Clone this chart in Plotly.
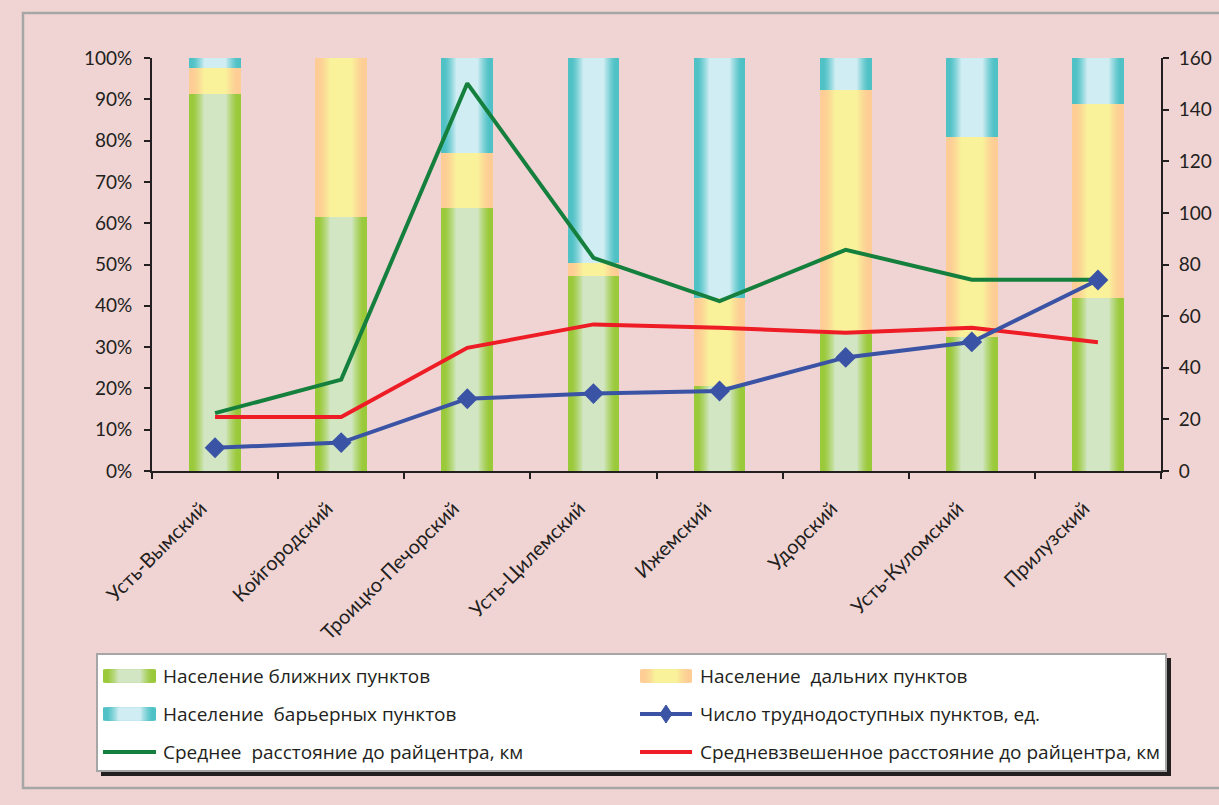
import plotly.graph_objects as go

# ---------------- data ----------------
districts = ["Усть-Вымский", "Койгородский", "Троицко-Печорский", "Усть-Цилемский",
             "Ижемский", "Удорский", "Усть-Куломский", "Прилузский"]
near_pct = [91.2, 61.4, 63.6, 47.2, 20.5, 33.2, 32.4, 41.8]
far_pct = [6.4, 38.6, 13.3, 3.2, 21.4, 59.0, 48.4, 47.1]
barrier_pct = [2.4, 0.0, 23.1, 49.6, 58.1, 7.8, 19.2, 11.1]
hard_count = [9, 11, 28, 30, 31, 44, 50, 74]
avg_dist = [22.4, 35.4, 150.2, 82.6, 65.8, 85.7, 74.1, 74.1]
wavg_dist = [20.9, 20.9, 47.7, 56.8, 55.5, 53.6, 55.5, 49.9]
pct_ticks = list(range(0, 101, 10))
pct_labels = [f"{v}%" for v in pct_ticks]
right_ticks = list(range(0, 161, 20))

names = ["Население ближних пунктов", "Население  дальних пунктов",
         "Население  барьерных пунктов", "Число труднодоступных пунктов, ед.",
         "Среднее  расстояние до райцентра, км", "Средневзвешенное расстояние до райцентра, км"]

# ---------------- styles ----------------
BG = "#F0D4D4"
INK = "#231F20"


def hex2rgb(h):
    h = h.lstrip("#")
    return [int(h[i:i + 2], 16) for i in (0, 2, 4)]


def grad(edge, center, n=16, inner=0.42, hold=0.22, power=1.3):
    """Layers (width fraction, colour) emulating a horizontal cylinder gradient."""
    e, c = hex2rgb(edge), hex2rgb(center)
    out = []
    for i in range(n):
        t = i / (n - 1)
        fr = 1.0 - (1.0 - inner) * t
        tt = min(1.0, max(0.0, (t - hold) / (1.0 - hold))) ** power
        col = [round(e[k] + (c[k] - e[k]) * tt) for k in range(3)]
        out.append((fr, "rgb({},{},{})".format(*col)))
    return out


GREEN_L = grad("#9AC93A", "#D2E6C4")
YELLOW_L = grad("#FDCD95", "#F9F29A")
CYAN_L = grad("#50C2C6", "#D0EDF4")
BAR_W = 0.41
TICK_FONT = dict(family="Lato, Open Sans, sans-serif", size=19, color=INK)
XTICK_FONT = dict(family="Lato, Open Sans, sans-serif", size=20, color=INK)
LEG_FONT = dict(family="Open Sans, sans-serif", size=19, color=INK)

W, H = 1219, 805
PL, PR, PT, PB = 152, 1161, 58, 471


def pxx(x):
    return (x - PL) / (PR - PL)


def pyy(y):
    return (PB - y) / (PB - PT)


fig = go.Figure()

bases_far = [a for a in near_pct]
bases_bar = [a + b for a, b in zip(near_pct, far_pct)]
series = [(near_pct, [0] * len(near_pct), GREEN_L),
          (far_pct, bases_far, YELLOW_L),
          (barrier_pct, bases_bar, CYAN_L)]
for vals, base, layers in series:
    for fr, col in layers:
        fig.add_trace(go.Bar(x=districts, y=vals, base=base, width=BAR_W * fr,
                             marker=dict(color=col, line=dict(width=0)),
                             showlegend=False, hoverinfo="skip", yaxis="y"))

fig.add_trace(go.Scatter(x=districts, y=avg_dist, mode="lines", yaxis="y2",
                         line=dict(color="#15803D", width=4), showlegend=False))
fig.add_trace(go.Scatter(x=districts, y=wavg_dist, mode="lines", yaxis="y2",
                         line=dict(color="#EE1C25", width=4), showlegend=False))
fig.add_trace(go.Scatter(x=districts, y=hard_count, mode="lines+markers", yaxis="y2",
                         line=dict(color="#3A53A4", width=4),
                         marker=dict(symbol="diamond", size=16, color="#3A53A4"),
                         showlegend=False))

shapes = []
# outer frame
shapes.append(dict(type="rect", xref="paper", yref="paper",
                   x0=pxx(23), x1=pxx(1240), y0=pyy(788), y1=pyy(13),
                   line=dict(color="#A6A6A6", width=2.5), fillcolor="rgba(0,0,0,0)", layer="below"))
# legend box with shadow
shapes.append(dict(type="rect", xref="paper", yref="paper",
                   x0=pxx(101), x1=pxx(1171), y0=pyy(776), y1=pyy(658),
                   line=dict(width=0), fillcolor=INK))
shapes.append(dict(type="rect", xref="paper", yref="paper",
                   x0=pxx(97), x1=pxx(1166), y0=pyy(771), y1=pyy(654),
                   line=dict(color="#A6A6A6", width=2), fillcolor="white"))

annotations = []


def swatch(x0, x1, yc, layers):
    wfull = x1 - x0
    cx = (x0 + x1) / 2
    for fr, col in layers:
        hw = wfull * fr / 2
        shapes.append(dict(type="rect", xref="paper", yref="paper",
                           x0=pxx(cx - hw), x1=pxx(cx + hw), y0=pyy(yc + 6.5), y1=pyy(yc - 6.5),
                           line=dict(width=0), fillcolor=col))


def linesw(x0, x1, yc, col, diamond=False):
    shapes.append(dict(type="line", xref="paper", yref="paper",
                       x0=pxx(x0), x1=pxx(x1), y0=pyy(yc), y1=pyy(yc),
                       line=dict(color=col, width=4)))
    if diamond:
        cx = (x0 + x1) / 2
        path = "M {a},{b} L {c},{d} L {a},{e} L {f},{d} Z".format(
            a=pxx(cx), b=pyy(yc - 9), c=pxx(cx + 6), d=pyy(yc), e=pyy(yc + 9), f=pxx(cx - 6))
        shapes.append(dict(type="path", xref="paper", yref="paper", path=path,
                           fillcolor=col, line=dict(color=col, width=1)))


rows = [676, 714, 752]
LX0, LX1, LT = 103, 156, 161
RX0, RX1, RT = 640, 692, 698
swatch(LX0, LX1, rows[0], GREEN_L)
swatch(RX0, RX1, rows[0], YELLOW_L)
swatch(LX0, LX1, rows[1], CYAN_L)
linesw(RX0, RX1, rows[1], "#3A53A4", diamond=True)
linesw(LX0, LX1, rows[2], "#15803D")
linesw(RX0, RX1, rows[2], "#EE1C25")
pos = [(LT, rows[0]), (RT, rows[0]), (LT, rows[1]), (RT, rows[1]), (LT, rows[2]), (RT, rows[2])]
for (tx, ty), nm in zip(pos, names):
    annotations.append(dict(xref="paper", yref="paper", x=pxx(tx), y=pyy(ty), text=nm,
                            showarrow=False, xanchor="left", yanchor="middle", font=LEG_FONT))

axis_common = dict(showline=True, linecolor=INK, linewidth=2, ticks="outside",
                   ticklen=6, tickwidth=2, tickcolor=INK, showgrid=False, zeroline=False)

fig.update_layout(
    width=W, height=H,
    margin=dict(l=PL, r=W - PR, t=PT, b=H - PB, autoexpand=False),
    paper_bgcolor=BG, plot_bgcolor=BG,
    barmode="overlay", bargap=0,
    showlegend=False,
    xaxis=dict(type="category", range=[-0.5, 7.5], tickson="boundaries", tickangle=-45,
               tickfont=XTICK_FONT, ticklabelstandoff=16, ticklabelshift=-14, **axis_common),
    yaxis=dict(range=[0, 100], tickvals=pct_ticks, ticktext=pct_labels, ticklabelstandoff=8,
               tickfont=TICK_FONT, **axis_common),
    yaxis2=dict(range=[0, 160], tickvals=right_ticks, overlaying="y", side="right",
                ticklabelstandoff=6, tickfont=TICK_FONT, **axis_common),
    shapes=shapes, annotations=annotations,
)

fig.write_html("out.html", config={"displayModeBar": False},
               post_script="document.body.style.margin='0';document.body.style.background='%s';" % BG)
